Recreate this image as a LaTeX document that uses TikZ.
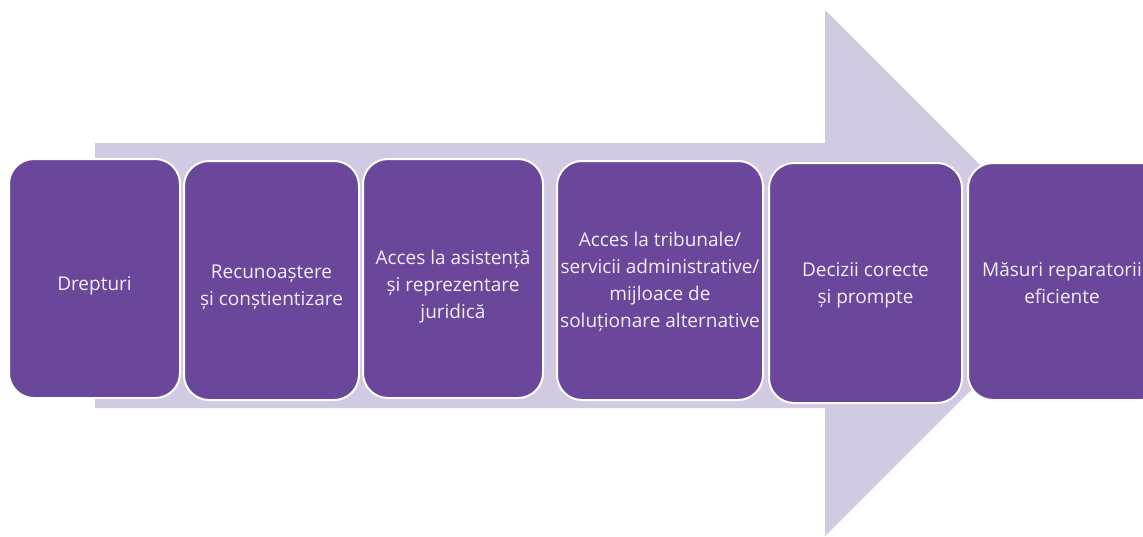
\documentclass[tikz,border=0pt]{standalone}
\usepackage{fontspec}
\setmainfont{Open Sans}
\definecolor{boxpurple}{RGB}{107,71,155}
\definecolor{arrowlav}{RGB}{210,201,227}
\definecolor{steptextcol}{RGB}{242,238,248}
\begin{document}
\begin{tikzpicture}[x=1pt,y=-1pt,
  stepbox/.style={draw=white, line width=2pt, fill=boxpurple, rounded corners=25pt,
    inner sep=0pt, minimum height=239pt},
  steptext/.style={inner sep=0pt, text=steptextcol, align=center,
    font=\fontsize{19}{27}\selectfont}]
\useasboundingbox (0,0) rectangle (1143,536);
\fill[arrowlav] (95,143) -- (825,143) -- (825,10) -- (1088,273) -- (825,536) -- (825,408) -- (95,408) -- cycle;
\node[stepbox, minimum width=171pt] (b1) at (94.5,278.5) {};
\node[stepbox, minimum width=175pt] (b2) at (271.5,280.5) {};
\node[stepbox, minimum width=180pt] (b3) at (453,278.5) {};
\node[stepbox, minimum width=206pt] (b4) at (660,280.5) {};
\node[stepbox, minimum width=193pt, minimum height=240pt] (b5) at (865.5,283) {};
\node[stepbox, minimum width=198pt, minimum height=237pt] (b6) at (1067,281.5) {};
\node[steptext] (t1) at ([yshift=-7pt]b1.center) {Drepturi};
\node[steptext] (t2) at ([yshift=-7pt]b2.center) {Recunoaștere\\și conștientizare};
\node[steptext] (t3) at ([yshift=-8pt]b3.center) {Acces la asistență\\și reprezentare\\juridică};
\node[steptext] (t4) at ([yshift=-1pt]b4.center) {Acces la tribunale/\\servicii administrative/\\mijloace de\\soluționare alternative};
\node[steptext] (t5) at ([yshift=-2pt]b5.center) {Decizii corecte\\și prompte};
\node[steptext] (t6) at ([xshift=-5pt,yshift=-2pt]b6.center) {Măsuri reparatorii\\eficiente};
\end{tikzpicture}
\end{document}
